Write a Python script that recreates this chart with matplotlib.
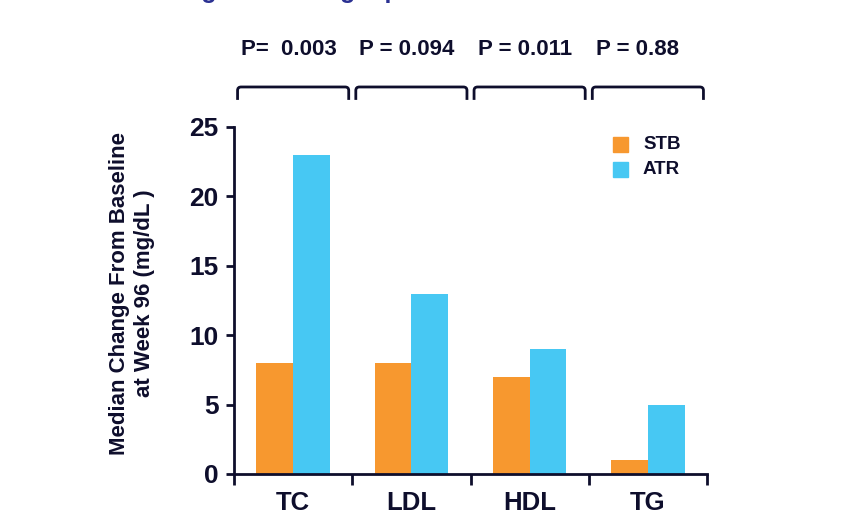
import matplotlib
matplotlib.use("Agg")
import matplotlib.pyplot as plt
from matplotlib.path import Path
from matplotlib.patches import PathPatch, Rectangle
import numpy as np

plt.rcParams['font.family'] = ['Liberation Sans', 'DejaVu Sans']
plt.rcParams['font.weight'] = 'bold'

categories = ["TC", "LDL", "HDL", "TG"]
stb = [8, 8, 7, 1]
atr = [23, 13, 9, 5]
p_labels = ["P=  0.003", "P = 0.094", "P = 0.011", "P = 0.88"]
series_names = ["STB", "ATR"]
yticks = [0, 5, 10, 15, 20, 25]

ink = "#0E0E2C"
orange = "#F7982F"
blue = "#47C8F3"
title_blue = "#2B3192"

fig = plt.figure(figsize=(8.55, 5.29), dpi=100)
ax = fig.add_axes([0.2737, 0.104, 0.5532, 0.656])

x = np.arange(len(categories)) + 0.5
w = 0.31
ax.bar(x - w, stb, width=w, align='edge', color=orange, zorder=2)
ax.bar(x, atr, width=w, align='edge', color=blue, zorder=2)

ax.set_xlim(0, 4)
ax.set_ylim(0, 25)

for s in ['top', 'right']:
    ax.spines[s].set_visible(False)
for s in ['left', 'bottom']:
    ax.spines[s].set_linewidth(2)
    ax.spines[s].set_color(ink)

ax.set_yticks(yticks)
ax.set_yticklabels([str(v) for v in yticks], fontsize=19, fontweight='bold', color=ink)
ax.tick_params(axis='y', length=6, width=2, color=ink, pad=5)

ax.set_xticks(x)
ax.set_xticklabels(categories, fontsize=18.5, fontweight='bold', color=ink)
ax.set_xticks(np.arange(len(categories) + 1), minor=True)
ax.tick_params(axis='x', which='major', length=0, pad=12)
ax.tick_params(axis='x', which='minor', length=8, width=2, color=ink, direction='out')

ax.set_ylabel("Median Change From Baseline\nat Week 96 (mg/dL )", fontsize=16,
              fontweight='bold', color=ink, linespacing=1.2)
ax.yaxis.set_label_coords(-0.168, 0.52)

# significance brackets with p-values above each category
for i, lab in enumerate(p_labels):
    x0, x1 = i + 0.03, i + 0.97
    ytop, ybot, r = 27.88, 26.95, 0.25
    verts = [(x0, ybot), (x0, ytop - r), (x0, ytop), (x0 + 0.03, ytop),
             (x1 - 0.03, ytop), (x1, ytop), (x1, ytop - r), (x1, ybot)]
    codes = [Path.MOVETO, Path.LINETO, Path.CURVE3, Path.CURVE3,
             Path.LINETO, Path.CURVE3, Path.CURVE3, Path.LINETO]
    ax.add_patch(PathPatch(Path(verts, codes), fill=False, lw=2, edgecolor=ink,
                           clip_on=False, capstyle='butt'))
    ax.text(i + 0.06, 30.55, lab, ha='left', va='center', fontsize=16,
            fontweight='bold', color=ink, clip_on=False)

# legend
for j, (name, col) in enumerate(zip(series_names, [orange, blue])):
    yy = 0.7127 - j * 25 / 529
    fig.patches.append(Rectangle((613 / 855, yy), 15 / 855, 15 / 529,
                                 transform=fig.transFigure, color=col))
    fig.text(643 / 855, yy + 7.5 / 529, name, ha='left', va='center',
             fontsize=13.5, fontweight='bold', color=ink)

# headline (runs off the top edge)
fig.text(0.163, 1.0 + 2 / 529, "Change in Fasting Lipids", ha='left', va='baseline',
         fontsize=18, fontweight='bold', color=title_blue)

fig.savefig("out.png", dpi=100)
